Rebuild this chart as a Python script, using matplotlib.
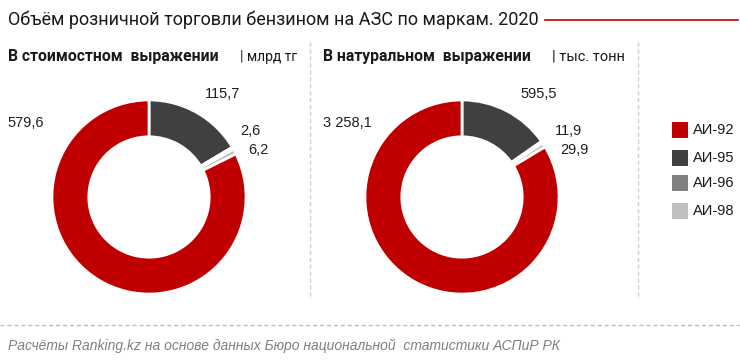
import matplotlib
matplotlib.use('Agg')
import matplotlib.pyplot as plt

# данные
brands = ['АИ-92', 'АИ-95', 'АИ-96', 'АИ-98']
colors = ['#C00000', '#404040', '#808080', '#BFBFBF']
value_bn_tg = [579.6, 115.7, 2.6, 6.2]
value_kt = [3258.1, 595.5, 11.9, 29.9]
labels_bn_tg = ['579,6', '115,7', '2,6', '6,2']
labels_kt = ['3 258,1', '595,5', '11,9', '29,9']

W, H = 740, 363
fig = plt.figure(figsize=(W / 100, H / 100), dpi=100)
fig.patch.set_facecolor('white')

narrow = ['Roboto', 'DejaVu Sans']
plt.rcParams['font.family'] = ['Liberation Sans', 'DejaVu Sans']


def fx(x):
    return x / W


def fy(y):
    return 1 - y / H


def donut(cx, cy, r, values, texts, text_pos):
    ax = fig.add_axes([fx(cx - r), fy(cy + r), 2 * r / W, 2 * r / H])
    # порядок по часовой стрелке от 12 часов: 95, 96, 98, 92
    order = [1, 2, 3, 0]
    ax.pie([values[i] for i in order], colors=[colors[i] for i in order],
           startangle=90, counterclock=False, radius=1,
           wedgeprops=dict(width=0.38, edgecolor='white', linewidth=2))
    ax.set_xlim(-1.02, 1.02)
    ax.set_ylim(-1.02, 1.02)
    ax.set_aspect('equal')
    ax.axis('off')
    for t, (x, y) in zip(texts, text_pos):
        fig.text(fx(x), fy(y), t, fontsize=10.5, color='#1f1f1f',
                 ha='left', va='center')


donut(149, 197, 99, value_bn_tg, labels_bn_tg,
      [(7, 123), (205, 94), (240, 131), (248, 150)])
donut(462, 197, 99, value_kt, labels_kt,
      [(323, 123), (520, 94), (555, 131), (560, 150)])

# заголовок
fig.text(fx(8), fy(20), 'Объём розничной торговли бензином на АЗС по маркам. 2020',
         fontsize=13, family=narrow, color='#1a1a1a', ha='left', va='center')
fig.add_artist(plt.Line2D([fx(545), fx(738)], [fy(20), fy(20)],
                          color='#C00000', linewidth=1.2))

# подзаголовки
fig.text(fx(8), fy(57), 'В стоимостном  выражении', fontsize=11.3, family=narrow,
         fontweight='bold', color='#1a1a1a', ha='left', va='center')
fig.text(fx(240), fy(57), '| млрд тг', fontsize=10, family=narrow,
         color='#1a1a1a', ha='left', va='center')
fig.text(fx(323), fy(57), 'В натуральном  выражении', fontsize=11.3, family=narrow,
         fontweight='bold', color='#1a1a1a', ha='left', va='center')
fig.text(fx(552), fy(57), '| тыс. тонн', fontsize=10.5, family=narrow,
         color='#1a1a1a', ha='left', va='center')

# пунктирные разделители
for x in (310, 638):
    fig.add_artist(plt.Line2D([fx(x), fx(x)], [fy(42), fy(299)],
                              color='#cfcfcf', linewidth=1, linestyle=(0, (3, 2))))
fig.add_artist(plt.Line2D([fx(0), fx(740)], [fy(325), fy(325)],
                          color='#bfbfbf', linewidth=1, linestyle=(0, (3, 2))))

# легенда
for i, (b, c) in enumerate(zip(brands, colors)):
    y = [130, 158, 183, 211][i]
    fig.add_artist(plt.Rectangle((fx(672), fy(y + 8)), 16 / W, 16 / H,
                                 facecolor=c, edgecolor='none'))
    fig.text(fx(693), fy(y), b, fontsize=10.5, color='#1a1a1a',
             ha='left', va='center')

# источник
fig.text(fx(8), fy(346),
         'Расчёты Ranking.kz на основе данных Бюро национальной  статистики АСПиР РК',
         fontsize=10, style='italic', color='#7f7f7f', ha='left', va='center')

fig.savefig('out.png', dpi=100)
